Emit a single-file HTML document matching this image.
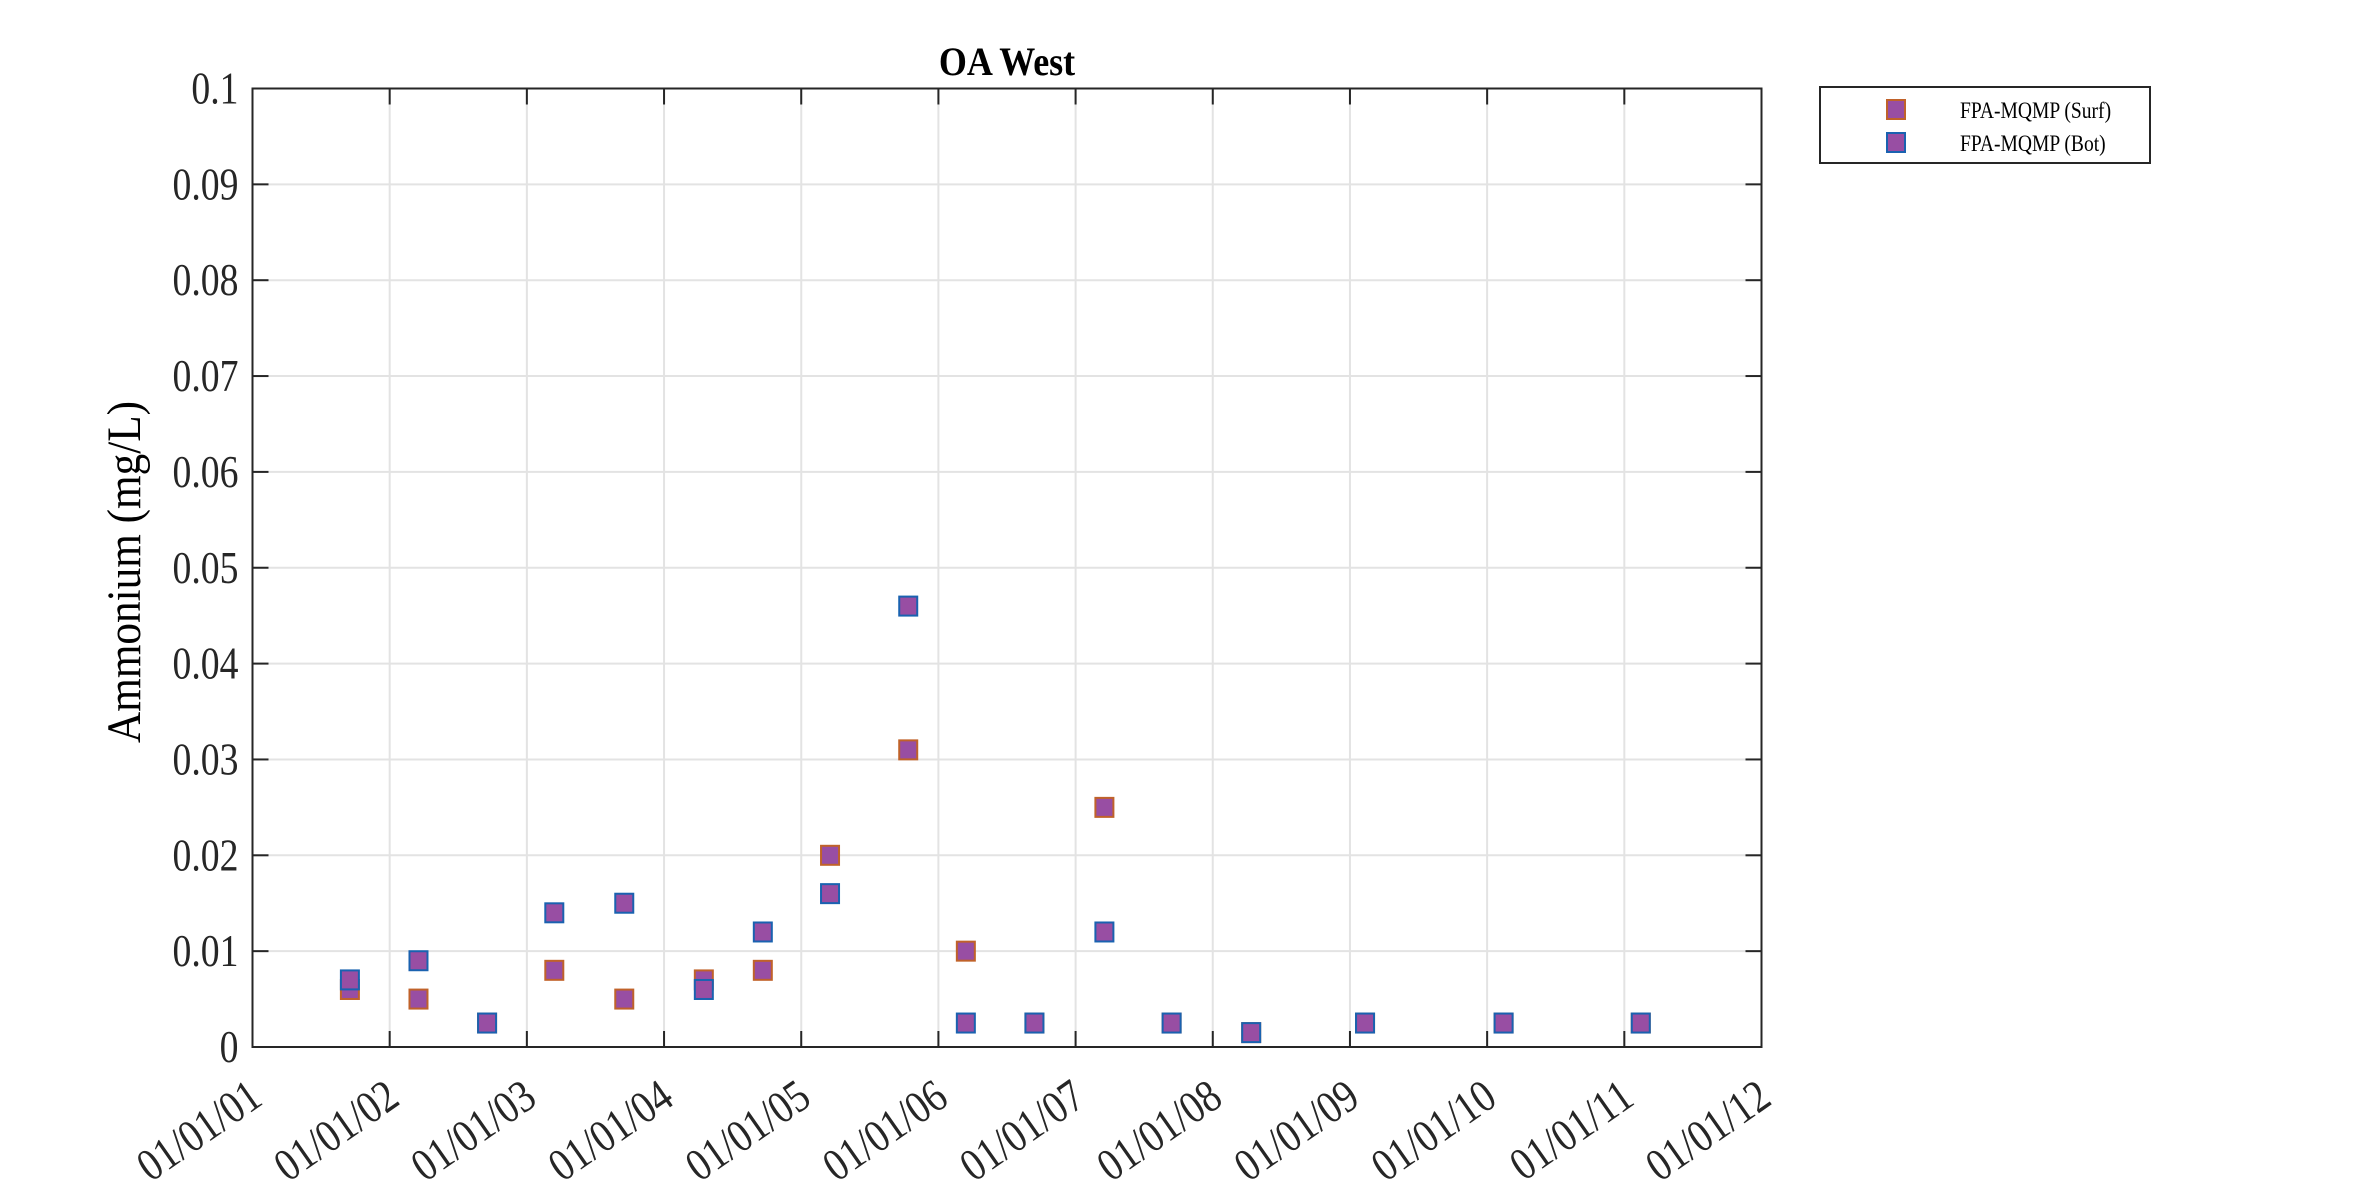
<!DOCTYPE html>
<html><head><meta charset="utf-8"><style>
html,body{margin:0;padding:0;background:#fff;}
svg{display:block;font-family:"Liberation Serif",serif;}
</style></head><body>
<svg id="chart" width="2362" height="1181" viewBox="0 0 2362 1181" xmlns="http://www.w3.org/2000/svg">
<rect x="0" y="0" width="2362" height="1181" fill="#fff"/>
<g id="grid"></g>
<g id="marks"></g>
<rect x="252.5" y="88.5" width="1509" height="958.5" fill="none" stroke="#262626" stroke-width="2"/>
<g id="ticks"></g>
<text transform="translate(1007,75) scale(0.9,1)" text-anchor="middle" font-weight="bold" font-size="40" fill="#000">OA West</text>
<text transform="translate(140,572) rotate(-90) scale(0.9,1)" text-anchor="middle" font-size="48" fill="#000">Ammonium (mg/L)</text>
<g>
<rect x="1820" y="87" width="330" height="76" fill="#fff" stroke="#262626" stroke-width="2"/>
<rect x="1887" y="100" width="18" height="19" fill="#984ea3" stroke="#c0622a" stroke-width="2"/>
<text transform="translate(1960,118) scale(0.85,1)" font-size="23" fill="#000">FPA-MQMP (Surf)</text>
<rect x="1887" y="133" width="18" height="19" fill="#984ea3" stroke="#1a62b0" stroke-width="2"/>
<text transform="translate(1960,151) scale(0.85,1)" font-size="23" fill="#000">FPA-MQMP (Bot)</text>
</g>
</svg>
<script>
const xTickLabels = ["01/01/01","01/01/02","01/01/03","01/01/04","01/01/05","01/01/06","01/01/07","01/01/08","01/01/09","01/01/10","01/01/11","01/01/12"];
const yTickValues = [0,0.01,0.02,0.03,0.04,0.05,0.06,0.07,0.08,0.09,0.1];
const yTickLabels = ["0","0.01","0.02","0.03","0.04","0.05","0.06","0.07","0.08","0.09","0.1"];
const sampleYears = [0.71,1.21,1.71,2.20,2.71,3.29,3.72,4.21,4.78,5.20,5.70,6.21,6.70,7.28,8.11,9.12,10.12];
const surfValues = [0.006,0.005,0.0025,0.008,0.005,0.007,0.008,0.02,0.031,0.01,0.0025,0.025,0.0025,0.0015,0.0025,0.0025,0.0025];
const botValues = [0.007,0.009,0.0025,0.014,0.015,0.006,0.012,0.016,0.046,0.0025,0.0025,0.012,0.0025,0.0015,0.0025,0.0025,0.0025];

const NS="http://www.w3.org/2000/svg";
const L=252.5,R=1761.5,T=88.5,B=1047;
const xMax=11,yMax=0.1;
function xs(v){return L+(v/xMax)*(R-L);}
function ys(v){return B-(v/yMax)*(B-T);}
function mk(tag,attrs,parent){const e=document.createElementNS(NS,tag);for(const k in attrs)e.setAttribute(k,attrs[k]);parent.appendChild(e);return e;}
const grid=document.getElementById('grid'),ticks=document.getElementById('ticks'),marks=document.getElementById('marks');

xTickLabels.forEach((lab,i)=>{
  const x=xs(i);
  if(i>0&&i<xTickLabels.length-1){
    const g=mk('line',{x1:x,x2:x,y1:T,y2:B,stroke:'#e3e3e3','stroke-width':2},grid);
    
    
    const t1=mk('line',{x1:x,x2:x,y1:B,y2:B-16,stroke:'#262626','stroke-width':2},ticks);
    
    
    const t2=mk('line',{x1:x,x2:x,y1:T,y2:T+16,stroke:'#262626','stroke-width':2},ticks);
    
    
  }
  const tx=mk('text',{transform:`translate(${x+12},${B+56}) rotate(-35) scale(0.85,1)`,'text-anchor':'end','font-size':46,fill:'#262626'},ticks);
  tx.textContent=lab;
  
  
});
yTickValues.forEach((v,i)=>{
  const y=ys(v);
  if(i>0&&i<yTickValues.length-1){
    const g=mk('line',{x1:L,x2:R,y1:y,y2:y,stroke:'#e3e3e3','stroke-width':2},grid);
    
    
    const t1=mk('line',{x1:L,x2:L+16,y1:y,y2:y,stroke:'#262626','stroke-width':2},ticks);
    
    
    const t2=mk('line',{x1:R,x2:R-16,y1:y,y2:y,stroke:'#262626','stroke-width':2},ticks);
    
    
  }
  const tx=mk('text',{transform:`translate(${L-14},${y+15}) scale(0.82,1)`,'text-anchor':'end','font-size':46,fill:'#262626'},ticks);
  tx.textContent=yTickLabels[i];
  
  
});
function drawSeries(vals,stroke,name){
  vals.forEach((v,i)=>{
    const x=xs(sampleYears[i]),y=ys(v);
    const r=mk('rect',{x:x-9,y:y-9.5,width:18,height:19,fill:'#984ea3',stroke:stroke,'stroke-width':2},marks);
    
    
  });
}
drawSeries(surfValues,'#c0622a','surf-point');
drawSeries(botValues,'#1a62b0','bot-point');
</script>
</body></html>
